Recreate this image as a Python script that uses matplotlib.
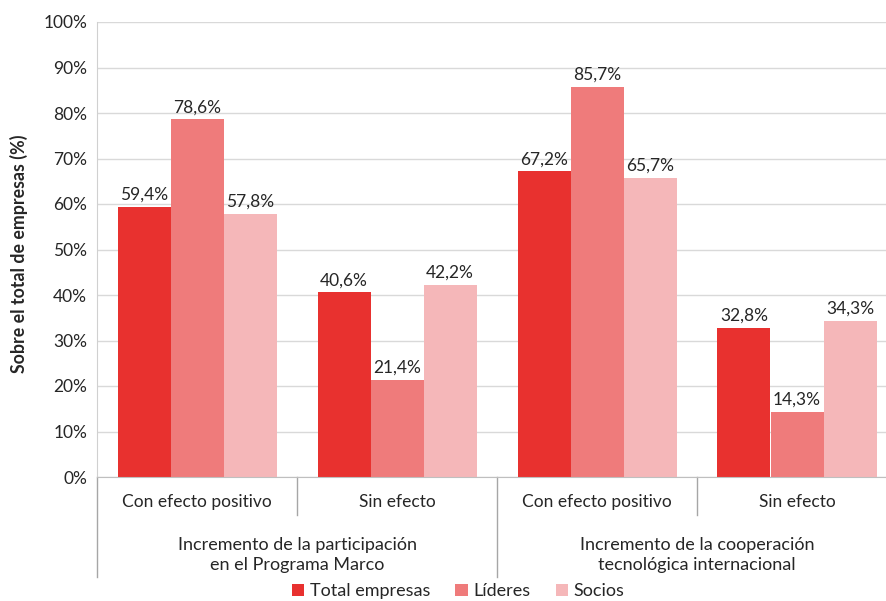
import matplotlib.pyplot as plt
import matplotlib.transforms as mtransforms
from matplotlib.patches import Patch
import numpy as np

plt.rcParams['font.family'] = ['Lato', 'DejaVu Sans']

# data
sub_labels = ["Con efecto positivo", "Sin efecto", "Con efecto positivo", "Sin efecto"]
group_labels = ["Incremento de la participación\nen el Programa Marco",
                "Incremento de la cooperación\ntecnológica internacional"]
series_names = ["Total empresas", "Líderes", "Socios"]
total_empresas = [59.4, 40.6, 67.2, 32.8]
lideres = [78.6, 21.4, 85.7, 14.3]
socios = [57.8, 42.2, 65.7, 34.3]
y_ticks = [0, 10, 20, 30, 40, 50, 60, 70, 80, 90, 100]

colors = ["#e8312f", "#ef7b7b", "#f5b7b9"]
text_color = "#262626"

fig = plt.figure(figsize=(8.86, 6.01), dpi=100)
ax = fig.add_axes([97 / 886, 1 - 477 / 601, 800 / 886, 455 / 601])

x = np.arange(len(sub_labels))
width = 0.265
all_series = [total_empresas, lideres, socios]
for i, (vals, col) in enumerate(zip(all_series, colors)):
    pos = x + (i - 1) * width
    ax.bar(pos, vals, width, color=col, zorder=2)
    for px, v in zip(pos, vals):
        ax.text(px, v + 0.9, f"{v:.1f}%".replace(".", ","), ha="center", va="bottom",
                fontsize=12.5, color=text_color)

ax.set_xlim(-0.5, 3.5)
ax.set_ylim(0, 100)
ax.set_yticks(y_ticks)
ax.set_yticklabels([f"{t}%" for t in y_ticks], fontsize=12.5, color=text_color)
ax.tick_params(axis="y", length=0, pad=7)
ax.set_xticks([])
ax.grid(axis="y", color="#d9d9d9", linewidth=1, zorder=0)
for s in ["top", "right"]:
    ax.spines[s].set_visible(False)
ax.spines["left"].set_color("#d0d0d0")
ax.spines["bottom"].set_color("#bfbfbf")

ax.set_ylabel("Sobre el total de empresas (%)", fontsize=12.8, fontweight="bold",
              color=text_color)
ax.yaxis.set_label_coords(-0.086, 0.49)

# multi-level category axis
trans = mtransforms.blended_transform_factory(ax.transData, ax.transAxes)
for xs, depth in [(-0.5, -0.22), (0.5, -0.0835), (1.5, -0.22), (2.5, -0.0835)]:
    ax.plot([xs, xs], [0, depth], transform=trans, color="#a6a6a6", linewidth=1, clip_on=False)
for xi, lab in zip(x, sub_labels):
    ax.text(xi, -0.055, lab, transform=trans, ha="center", va="center", fontsize=12.5, color=text_color)
for gi, lab in enumerate(group_labels):
    ax.text(2 * gi + 0.5, -0.171, lab, transform=trans, ha="center", va="center",
            fontsize=13, color=text_color, linespacing=1.3)

handles = [Patch(facecolor=c, label=n) for c, n in zip(colors, series_names)]
leg = fig.legend(handles=handles, loc="center", bbox_to_anchor=(0.517, 0.016), ncol=3,
                 frameon=False, fontsize=13, handlelength=0.7, handleheight=0.7,
                 handletextpad=0.3, columnspacing=1.4)
for t in leg.get_texts():
    t.set_color(text_color)

fig.savefig("out.png", dpi=100)
